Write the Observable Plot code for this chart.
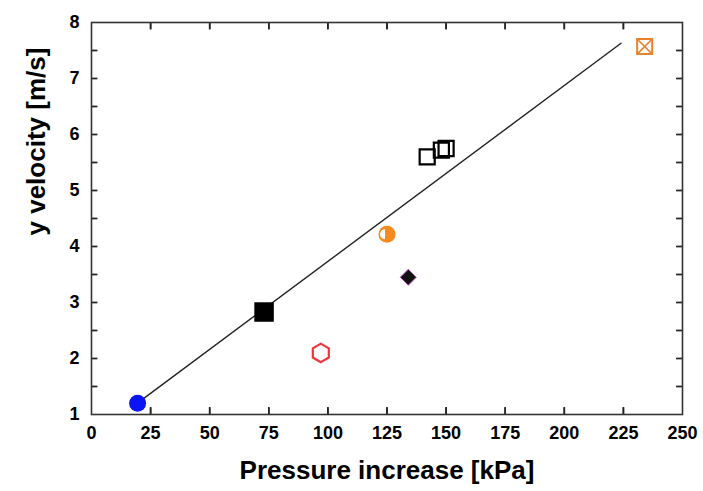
<!DOCTYPE html>
<html>
<head>
<meta charset="utf-8">
<script src="https://cdn.jsdelivr.net/npm/d3@7"></script>
<script src="https://cdn.jsdelivr.net/npm/@observablehq/plot@0.6"></script>
<style>
  html, body { margin: 0; padding: 0; background: #fff; }
  #chart svg { display: block; }
  #chart svg text { font-weight: bold; }
</style>
</head>
<body>
<div id="chart"></div>
<script>
// ---- data ----
const pressure = [19.5, 73, 97, 125, 134, 142, 148, 150, 234];
const velocity = [1.2, 2.83, 2.1, 4.22, 3.45, 5.6, 5.72, 5.75, 7.57];
const kind = ["blueCircle", "filledSquare", "openHexagon", "halfCircle", "diamond", "openSquare", "openSquare", "openSquare", "boxedX"];

const fitX = [20, 224];
const fitY = [1.22, 7.63];

const xTicks = [0, 25, 50, 75, 100, 125, 150, 175, 200, 225, 250];
const yTicks = [1, 2, 3, 4, 5, 6, 7, 8];
const yMinor = [1.5, 2, 2.5, 3, 3.5, 4, 4.5, 5, 5.5, 6, 6.5, 7, 7.5];

const points = pressure.map((p, i) => ({x: p, y: velocity[i], kind: kind[i]}));
const fit = fitX.map((x, i) => ({x, y: fitY[i]}));
const of = k => points.filter(d => d.kind === k);

// custom symbols
const leftHalf = {
  draw(ctx, size) {
    const r = Math.sqrt(size / Math.PI);
    ctx.moveTo(0, -r);
    ctx.arc(0, 0, r, -Math.PI / 2, Math.PI / 2, true);
    ctx.closePath();
  }
};
const rhombus = {
  draw(ctx, size) {
    const r = Math.sqrt(size / Math.PI);
    ctx.moveTo(0, -r);
    ctx.lineTo(r, 0);
    ctx.lineTo(0, r);
    ctx.lineTo(-r, 0);
    ctx.closePath();
  }
};
// tick-shaped symbols (short strokes pointing into the frame)
const tickUp = {draw(ctx) { ctx.moveTo(0, 0); ctx.lineTo(0, -7); }};
const tickDown = {draw(ctx) { ctx.moveTo(0, 0); ctx.lineTo(0, 7); }};
const tickRight = {draw(ctx) { ctx.moveTo(0, 0); ctx.lineTo(6, 0); }};
const tickLeft = {draw(ctx) { ctx.moveTo(0, 0); ctx.lineTo(-6, 0); }};

const W = 703, H = 491, ML = 91, MR = 21, MT = 22, MB = 77;
const innerW = W - ML - MR, innerH = H - MT - MB;
const xDom = [0, 250], yDom = [1, 8];
const tx = 7 * (yDom[1] - yDom[0]) / innerH;
const ty = 6 * (xDom[1] - xDom[0]) / innerW;
const font = "'Liberation Sans', Arial, sans-serif";
const tickStyle = {fill: "none", stroke: "#222", strokeWidth: 1.6};

const chart = Plot.plot({
  width: W,
  height: H,
  marginLeft: ML,
  marginRight: MR,
  marginTop: MT,
  marginBottom: MB,
  style: {fontFamily: font, background: "#fff", fontWeight: "bold"},
  x: {domain: xDom},
  y: {domain: yDom},
  marks: [
    // inward tick marks (rules)
    Plot.ruleX(xTicks.slice(1, -1), {x: d => d, y1: yDom[0], y2: yDom[0] + tx, stroke: "#222", strokeWidth: 1.6}),
    Plot.ruleX(xTicks.slice(1, -1), {x: d => d, y1: yDom[1] - tx, y2: yDom[1], stroke: "#222", strokeWidth: 1.6}),
    Plot.ruleY(yMinor, {y: d => d, x1: xDom[0], x2: xDom[0] + ty, stroke: "#222", strokeWidth: 1.4}),
    Plot.ruleY(yMinor, {y: d => d, x1: xDom[1] - ty, x2: xDom[1], stroke: "#222", strokeWidth: 1.4}),
    // fit line
    Plot.line(fit, {x: "x", y: "y", stroke: "#222", strokeWidth: 1.4}),
    // markers
    Plot.dot(of("blueCircle"), {x: "x", y: "y", r: 8.5, fill: "#0a14f5", stroke: "none"}),
    Plot.dot(of("filledSquare"), {x: "x", y: "y", symbol: "square", r: 11, fill: "#000", stroke: "none"}),
    Plot.dot(of("openHexagon"), {x: "x", y: "y", symbol: "hexagon", r: 8, fill: "#fff", stroke: "#f0343c", strokeWidth: 2.2}),
    Plot.dot(of("halfCircle"), {x: "x", y: "y", r: 8.5, fill: "#f68a1e", stroke: "none"}),
    Plot.dot(of("halfCircle"), {x: "x", y: "y", symbol: leftHalf, r: 5, dx: -2, fill: "#fff", stroke: "none"}),
    Plot.dot(of("diamond"), {x: "x", y: "y", symbol: rhombus, r: 8, fill: "#111", stroke: "#c050c8", strokeWidth: 1}),
    Plot.dot(of("openSquare"), {x: "x", y: "y", symbol: "square", r: 8.5, fill: "none", stroke: "#000", strokeWidth: 2.2}),
    Plot.dot(of("boxedX"), {x: "x", y: "y", symbol: "square", r: 8.5, fill: "#fff", stroke: "#e8822a", strokeWidth: 2}),
    Plot.dot(of("boxedX"), {x: "x", y: "y", symbol: "times", r: 6.5, stroke: "#e8822a", strokeWidth: 1.6}),
    // inward tick marks (symbol-drawn, same positions)
    Plot.dot(xTicks.slice(1, -1), {x: d => d, y: yDom[0], symbol: tickUp, ...tickStyle}),
    Plot.dot(xTicks.slice(1, -1), {x: d => d, y: yDom[1], symbol: tickDown, ...tickStyle}),
    Plot.dot(yMinor, {x: xDom[0], y: d => d, symbol: tickRight, ...tickStyle, strokeWidth: 1.4}),
    Plot.dot(yMinor, {x: xDom[1], y: d => d, symbol: tickLeft, ...tickStyle, strokeWidth: 1.4}),
    Plot.frame({stroke: "#333", strokeWidth: 1.6}),
    // tick labels
    Plot.axisX({ticks: xTicks, anchor: "bottom", tickSize: 0, tickPadding: 12, fontSize: 18, fill: "#000", label: null, tickFormat: "d"}),
    Plot.axisY({ticks: yTicks, anchor: "left", tickSize: 0, tickPadding: 12, fontSize: 18, fill: "#000", label: null, tickFormat: "d"}),
    // axis titles
    Plot.text(["Pressure increase [kPa]"], {frameAnchor: "bottom", dy: 64, fontSize: 26, fill: "#000"}),
    Plot.text(["y velocity [m/s]"], {frameAnchor: "left", dx: -55, dy: 17, rotate: -90, fontSize: 26, fill: "#000"})
  ]
});
document.getElementById("chart").appendChild(chart);
</script>
</body>
</html>
